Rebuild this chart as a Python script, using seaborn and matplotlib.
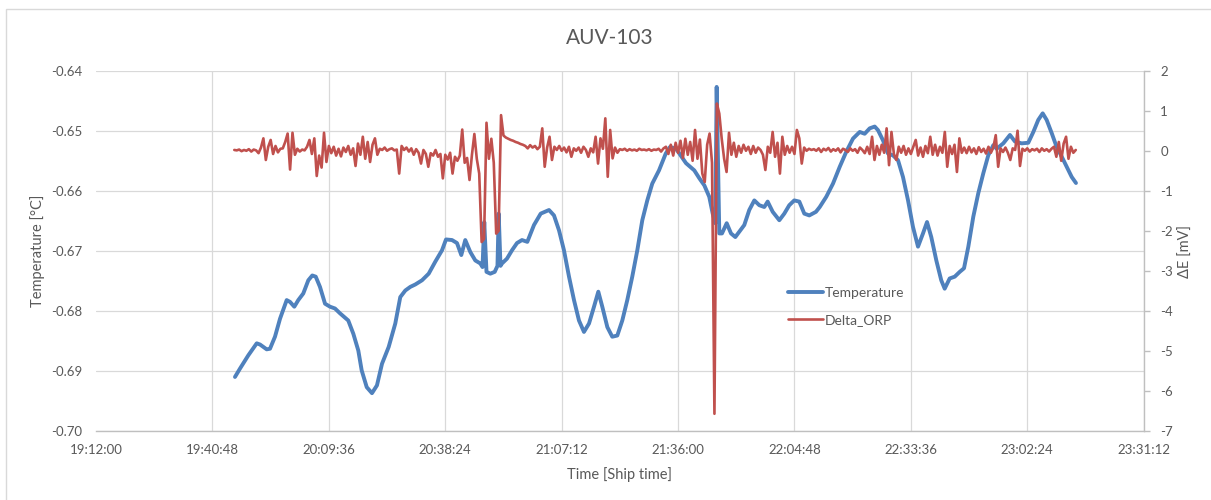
import numpy as np
import pandas as pd
import matplotlib
matplotlib.use('Agg')
import matplotlib.pyplot as plt
from matplotlib.ticker import FixedLocator, FuncFormatter
from matplotlib.lines import Line2D
from matplotlib.patches import Rectangle
import seaborn as sns

# ---- temperature trace (ship time, degC) ----
temp_time = [
    '19:46:23', '19:47:38', '19:49:41', '19:51:46', '19:52:35', '19:54:14', '19:55:03', '19:56:17',
    '19:57:32', '19:59:11', '20:00:00', '20:01:04', '20:02:03', '20:03:17', '20:04:32', '20:05:31',
    '20:06:22', '20:07:25', '20:08:40', '20:09:54', '20:11:08', '20:12:22', '20:14:25', '20:15:40',
    '20:16:54', '20:17:44', '20:18:59', '20:20:17', '20:21:31', '20:22:46', '20:24:25', '20:26:03',
    '20:27:17', '20:28:32', '20:29:46', '20:31:00', '20:32:40', '20:34:19', '20:35:57', '20:37:37',
    '20:38:36', '20:40:05', '20:41:19', '20:42:23', '20:43:22', '20:44:37', '20:45:51', '20:47:05',
    '20:47:38', '20:48:04', '20:48:37', '20:49:34', '20:50:39', '20:51:20', '20:51:38', '20:52:05',
    '20:52:27', '20:53:41', '20:54:56', '20:56:10', '20:57:24', '20:58:43', '21:00:22', '21:02:02',
    '21:04:05', '21:05:19', '21:06:34', '21:07:47', '21:09:02', '21:10:16', '21:11:30', '21:12:44',
    '21:13:59', '21:15:13', '21:16:17', '21:17:16', '21:18:31', '21:19:44', '21:20:59', '21:22:13',
    '21:23:27', '21:24:41', '21:25:56', '21:27:10', '21:28:24', '21:29:38', '21:31:18', '21:32:58',
    '21:34:01', '21:35:31', '21:37:59', '21:40:02', '21:41:16', '21:42:31', '21:43:44', '21:44:35',
    '21:45:14', '21:45:34', '21:46:13', '21:46:53', '21:48:03', '21:49:07', '21:50:11', '21:51:10',
    '21:52:24', '21:53:38', '21:54:53', '21:56:07', '21:57:21', '21:58:11', '21:59:26', '22:01:04',
    '22:02:18', '22:03:32', '22:04:46', '22:06:01', '22:07:15', '22:08:29', '22:10:08', '22:11:04',
    '22:12:41', '22:14:21', '22:16:01', '22:17:38', '22:19:18', '22:20:58', '22:22:11', '22:23:26',
    '22:24:40', '22:25:29', '22:26:43', '22:27:58', '22:29:11', '22:30:26', '22:31:40', '22:32:55',
    '22:34:08', '22:35:23', '22:36:37', '22:37:37', '22:38:40', '22:39:55', '22:41:08', '22:41:59',
    '22:43:13', '22:44:28', '22:45:42', '22:46:46', '22:47:50', '22:49:04', '22:50:18', '22:51:32',
    '22:52:46', '22:54:01', '22:54:51', '22:56:29', '22:58:08', '22:59:23', '23:01:02', '23:02:40',
    '23:03:55', '23:05:08', '23:06:14', '23:07:13', '23:08:28', '23:09:41', '23:10:56', '23:12:10',
    '23:13:25', '23:14:28',
]
temp_value = [
    -0.6910, -0.6896, -0.6874, -0.6854, -0.6856, -0.6864, -0.6863, -0.6843,
    -0.6813, -0.6782, -0.6785, -0.6793, -0.6782, -0.6771, -0.6749, -0.6741,
    -0.6743, -0.6760, -0.6788, -0.6793, -0.6796, -0.6804, -0.6816, -0.6838,
    -0.6866, -0.6899, -0.6927, -0.6937, -0.6924, -0.6888, -0.6860, -0.6821,
    -0.6777, -0.6766, -0.6760, -0.6756, -0.6749, -0.6738, -0.6718, -0.6699,
    -0.6681, -0.6682, -0.6687, -0.6707, -0.6682, -0.6702, -0.6716, -0.6721,
    -0.6727, -0.6652, -0.6735, -0.6738, -0.6735, -0.6725, -0.6638, -0.6725,
    -0.6721, -0.6713, -0.6699, -0.6687, -0.6682, -0.6685, -0.6657, -0.6638,
    -0.6632, -0.6641, -0.6666, -0.6699, -0.6743, -0.6782, -0.6816, -0.6835,
    -0.6821, -0.6793, -0.6768, -0.6793, -0.6827, -0.6843, -0.6841, -0.6816,
    -0.6782, -0.6743, -0.6699, -0.6649, -0.6616, -0.6588, -0.6566, -0.6538,
    -0.6527, -0.6530, -0.6554, -0.6566, -0.6579, -0.6591, -0.6610, -0.6638,
    -0.6654, -0.6427, -0.6671, -0.6671, -0.6654, -0.6671, -0.6677, -0.6668,
    -0.6657, -0.6632, -0.6616, -0.6624, -0.6627, -0.6618, -0.6635, -0.6649,
    -0.6638, -0.6624, -0.6616, -0.6618, -0.6638, -0.6641, -0.6635, -0.6627,
    -0.6610, -0.6588, -0.6560, -0.6535, -0.6513, -0.6502, -0.6505, -0.6496,
    -0.6493, -0.6499, -0.6516, -0.6538, -0.6541, -0.6549, -0.6577, -0.6616,
    -0.6660, -0.6693, -0.6671, -0.6652, -0.6677, -0.6716, -0.6749, -0.6763,
    -0.6746, -0.6743, -0.6735, -0.6729, -0.6693, -0.6643, -0.6604, -0.6571,
    -0.6541, -0.6524, -0.6530, -0.6521, -0.6507, -0.6518, -0.6521, -0.6520,
    -0.6502, -0.6482, -0.6471, -0.6482, -0.6504, -0.6527, -0.6543, -0.6560,
    -0.6577, -0.6587,
]

# ---- delta ORP trace (mV), one reading every 36 s from orp_start ----
orp_start = '19:46:13'
orp_step_s = 36
orp_value = [
    0.02, 0.01, 0.03, -0.01, 0.02, 0.00, 0.04, -0.02, 0.03, 0.01,
    -0.06, 0.08, 0.31, -0.23, 0.10, 0.27, -0.08, 0.12, -0.04, 0.05,
    0.06, 0.22, 0.43, -0.47, 0.45, -0.10, 0.05, -0.02, 0.03, 0.01,
    0.10, 0.27, -0.08, 0.31, -0.63, -0.12, -0.42, 0.45, -0.28, 0.12,
    -0.06, 0.10, -0.12, 0.05, -0.14, 0.08, -0.03, 0.12, -0.10, 0.06,
    -0.38, 0.18, -0.10, 0.35, -0.20, 0.22, -0.28, 0.15, 0.31, -0.10,
    0.05, 0.02, 0.08, 0.00, 0.04, 0.06, 0.01, 0.03, -0.57, 0.12,
    0.02, 0.08, -0.02, 0.06, -0.10, 0.04, -0.05, -0.32, 0.02, -0.08,
    -0.40, -0.06, -0.12, 0.02, -0.15, -0.08, -0.69, -0.10, -0.22, -0.05,
    -0.57, -0.15, -0.25, -0.12, 0.53, -0.30, -0.18, -0.73, -0.10, 0.42,
    -0.20, -0.57, -2.28, -2.20, 0.70, -0.20, 0.30, -0.30, -2.07, -2.00,
    0.89, 0.38, 0.33, 0.30, 0.27, 0.25, 0.22, 0.20, 0.17, 0.15,
    0.12, 0.06, 0.14, 0.08, 0.12, 0.04, 0.10, 0.56, -0.40, 0.08,
    0.35, -0.23, 0.10, 0.02, 0.12, 0.00, 0.08, -0.04, 0.10, -0.15,
    0.06, 0.00, 0.08, -0.05, 0.10, 0.02, -0.15, 0.06, -0.04, 0.35,
    -0.32, 0.31, 0.05, 0.81, -0.65, 0.52, -0.19, 0.08, -0.05, 0.04,
    0.02, 0.05, 0.00, 0.04, 0.01, 0.03, 0.00, 0.05, 0.02, 0.03,
    0.01, 0.04, 0.00, 0.03, 0.02, 0.05, -0.02, 0.06, 0.10, -0.08,
    0.15, -0.12, 0.20, -0.05, 0.25, -0.18, 0.30, -0.10, 0.22, -0.25,
    0.52, -0.20, 0.28, -0.57, -0.78, 0.15, 0.43, -0.30, -6.57, 1.18,
    0.93, 0.30, -0.20, -0.53, 0.45, -0.10, 0.20, -0.15, 0.12, -0.05,
    0.15, 0.00, 0.10, -0.08, 0.12, -0.05, 0.08, 0.02, -0.10, -0.48,
    0.10, -0.05, 0.47, -0.15, 0.20, -0.57, 0.35, -0.10, 0.12, -0.05,
    0.10, -0.08, 0.52, 0.31, -0.32, 0.08, 0.00, 0.05, 0.02, 0.04,
    0.00, 0.06, -0.03, 0.05, 0.01, 0.07, -0.02, 0.04, 0.00, 0.06,
    -0.04, 0.05, 0.02, -0.03, 0.06, 0.00, 0.04, -0.05, 0.08, 0.02,
    -0.06, 0.10, -0.08, 0.35, -0.23, 0.12, -0.10, 0.15, -0.05, 0.56,
    -0.36, 0.47, -0.08, -0.23, 0.10, -0.05, 0.12, -0.10, 0.06, -0.08,
    0.10, 0.27, -0.12, 0.08, -0.15, 0.12, -0.06, 0.35, -0.10, 0.15,
    -0.12, 0.10, -0.05, 0.47, -0.40, 0.12, -0.08, 0.15, -0.53, 0.31,
    -0.05, 0.08, -0.06, 0.10, -0.04, 0.06, -0.08, 0.09, -0.03, 0.05,
    -0.07, 0.10, -0.05, 0.08, 0.39, -0.40, 0.06, -0.03, 0.08, -0.05,
    -0.23, 0.06, 0.02, 0.50, -0.38, 0.05, 0.00, 0.06, -0.02, 0.04,
    0.01, 0.05, -0.03, 0.06, 0.00, 0.04, -0.02, 0.05, 0.10, -0.15,
    0.22, -0.25, 0.18, 0.35, -0.20, 0.10, -0.05, 0.02,
]

# ---- axes ticks ----
x_ticks = ['19:12:00', '19:40:48', '20:09:36', '20:38:24', '21:07:12',
           '21:36:00', '22:04:48', '22:33:36', '23:02:24', '23:31:12']
temp_ticks = [-0.70, -0.69, -0.68, -0.67, -0.66, -0.65, -0.64]
orp_ticks = [-7, -6, -5, -4, -3, -2, -1, 0, 1, 2]

BLUE = '#4F81BD'
RED = '#C0504D'
TXT = '#595959'
GRID = '#D9D9D9'
AXL = '#BFBFBF'


def to_day(s):
    h, m, sec = map(int, s.split(':'))
    return (h * 3600 + m * 60 + sec) / 86400.0


def day_fmt(v, pos=None):
    tot = int(round(v * 86400))
    return f"{tot // 3600:02d}:{(tot % 3600) // 60:02d}:{tot % 60:02d}"


temp_df = pd.DataFrame({'t': [to_day(s) for s in temp_time], 'temp': temp_value})
orp_df = pd.DataFrame({
    't': to_day(orp_start) + np.arange(len(orp_value)) * orp_step_s / 86400.0,
    'orp': orp_value,
})

sns.set_theme(style='white')
plt.rcParams['font.family'] = ['Lato', 'DejaVu Sans']

W, H = 1211, 500
fig = plt.figure(figsize=(W / 100, H / 100), dpi=100)
L, R, T, B = 96, 1143.6, 70.7, 431
ax = fig.add_axes([L / W, 1 - B / H, (R - L) / W, (B - T) / H])
ax2 = ax.twinx()

# chart-area border (Excel style)
fig.patches.append(Rectangle((6 / W, -0.05), 1.1, 1.05 - 9 / H, transform=fig.transFigure,
                             fill=False, edgecolor=GRID, lw=1.0))

sns.lineplot(data=temp_df, x='t', y='temp', ax=ax, color=BLUE, lw=2.8,
             estimator=None, sort=False, solid_joinstyle='round', solid_capstyle='round')
sns.lineplot(data=orp_df, x='t', y='orp', ax=ax2, color=RED, lw=1.9,
             estimator=None, sort=False, solid_joinstyle='round')

ax.set_xlim(to_day(x_ticks[0]), to_day(x_ticks[-1]))
ax.set_ylim(temp_ticks[0], temp_ticks[-1])
ax2.set_ylim(orp_ticks[0], orp_ticks[-1])

ax.xaxis.set_major_locator(FixedLocator([to_day(s) for s in x_ticks]))
ax.xaxis.set_major_formatter(FuncFormatter(day_fmt))
ax.yaxis.set_major_locator(FixedLocator(temp_ticks))
ax.yaxis.set_major_formatter(FuncFormatter(lambda v, p: f"{v:.2f}"))
ax2.yaxis.set_major_locator(FixedLocator(orp_ticks))
ax2.yaxis.set_major_formatter(FuncFormatter(lambda v, p: f"{v:.0f}"))

ax.grid(True, color=GRID, lw=0.9)
ax.set_axisbelow(True)
ax.get_xgridlines()[0].set_visible(False)

for sp in ['left', 'top', 'right']:
    ax.spines[sp].set_visible(False)
    ax2.spines[sp].set_visible(sp == 'right')
ax2.spines['bottom'].set_visible(False)
ax.spines['bottom'].set_color(AXL)
ax.spines['bottom'].set_linewidth(1.0)
ax2.spines['right'].set_color(AXL)
ax2.spines['right'].set_linewidth(1.0)

ax.tick_params(axis='x', length=0, pad=9, labelsize=9.5, labelcolor=TXT)
ax.tick_params(axis='y', length=0, pad=10, labelsize=9.5, labelcolor=TXT)
ax2.tick_params(axis='y', length=4, width=1, color=AXL, pad=8, labelsize=9.5, labelcolor=TXT)

ax.set_xlabel('Time [Ship time]', fontsize=10.5, color=TXT, labelpad=8)
ax.set_ylabel('')
ax2.set_ylabel('')
fig.text(37.5 / W, 1 - 251 / H, 'Temperature [°C]', rotation=90, ha='center', va='center',
         fontsize=10.5, color=TXT)
fig.text(1185.5 / W, 1 - 251 / H, 'ΔE [mV]', rotation=90, ha='center', va='center',
         fontsize=10.5, color=TXT)
fig.text(609.6 / W, 1 - 38 / H, 'AUV-103', ha='center', va='center', fontsize=15, color=TXT)

handles = [Line2D([], [], color=BLUE, lw=2.8), Line2D([], [], color=RED, lw=1.9)]
leg = ax2.legend(handles, ['Temperature', 'Delta_ORP'], loc='upper left',
                 bbox_to_anchor=(788 / W, 1 - 287 / H), bbox_transform=fig.transFigure,
                 frameon=False, fontsize=10, handlelength=2.5, handletextpad=0.15,
                 labelspacing=1.05, borderpad=0, borderaxespad=0)
for t in leg.get_texts():
    t.set_color(TXT)

fig.savefig('out.png', dpi=100, facecolor='white')
